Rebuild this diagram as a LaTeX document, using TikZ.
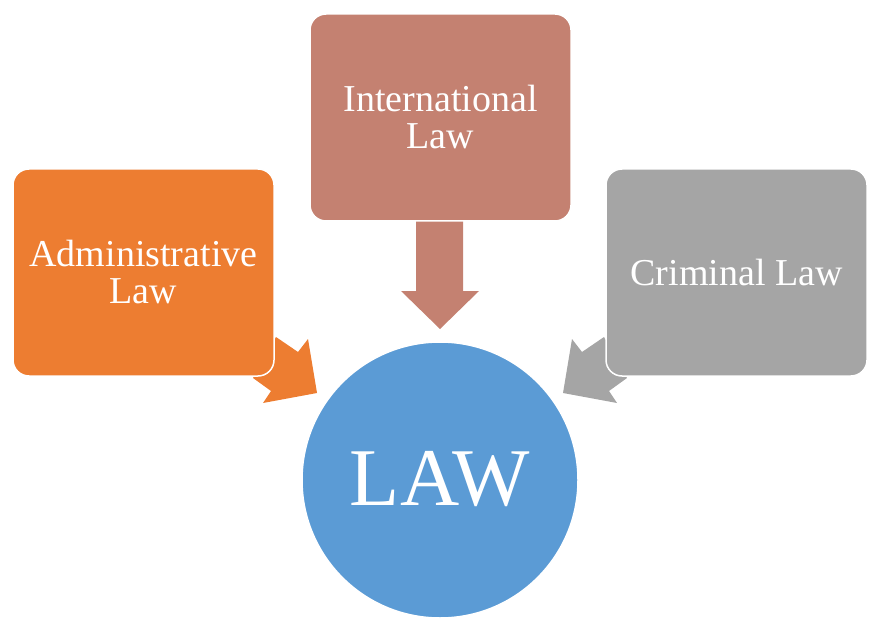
\documentclass[tikz,border=0pt]{standalone}
\usepackage{fontspec}
\setmainfont{Liberation Serif}
\definecolor{admin}{HTML}{ED7D31}
\definecolor{intl}{HTML}{C48171}
\definecolor{crim}{HTML}{A5A5A5}
\definecolor{lawblue}{HTML}{5B9BD5}
\begin{document}
\begin{tikzpicture}[x=1pt,y=-1pt,
  lawbox/.style={draw=white,line width=1.5pt,rounded corners=16pt,minimum width=261pt,minimum height=207pt,inner sep=0pt,text=white,align=center,font=\fontsize{38}{37}\selectfont},
  blockarrow/.style={draw=none}]
\useasboundingbox (0,0) rectangle (883,628);
% arrows (behind boxes)
\fill[admin] (276,337) -- (298,352) -- (308,339) -- (317,393) -- (263,403) -- (271,391) -- (253,378) -- cycle;
\fill[crim] (604,337) -- (582,352) -- (572,339) -- (563,393) -- (617,403) -- (609,391) -- (627,378) -- cycle;
\fill[intl] (416,215) -- (463,215) -- (463,291) -- (479,291) -- (440,329) -- (401,291) -- (416,291) -- cycle;
% boxes
\node[lawbox,fill=intl] (intlbox) at (440.5,117.5) {International\\Law};
\node[lawbox,fill=admin] (adminbox) at (143.5,272.5) {Administrative\\Law};
\node[lawbox,fill=crim] (crimbox) at (736.5,272.5) {Criminal Law};
\node[circle,draw=white,line width=1.5pt,fill=lawblue,minimum size=276pt,inner sep=0pt,text=white,font=\fontsize{82}{82}\selectfont] (law) at (440,480) {\raisebox{4pt}{LAW}};
\end{tikzpicture}
\end{document}
